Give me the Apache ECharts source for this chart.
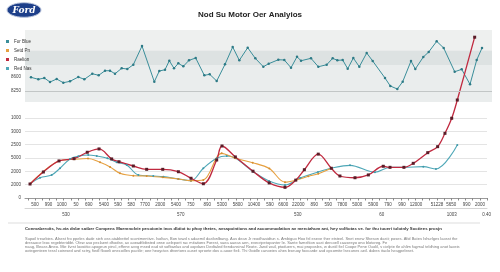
<!DOCTYPE html>
<html>
<head>
<meta charset="utf-8">
<style>
  html, body { margin: 0; padding: 0; background: #fff; }
  #chart { width: 500px; height: 272px; }
</style>
<script src="https://cdn.jsdelivr.net/npm/echarts@6/dist/echarts.min.js"></script>
</head>
<body>
<div id="chart"></div>
<script>
// top panel (weekly index)
const topX = [6, 13.3, 19.3, 25, 31.7, 38.3, 45, 53.3, 59.3, 67.3, 73.7, 80, 85, 90, 96.7, 102.3, 108.3, 117, 129.3, 134.3,
  140, 144.3, 149, 153.3, 158.3, 164, 170.7, 179.3, 184.7, 191.7, 200, 207.7, 214.3, 222.7, 230.3, 238.3, 243.7, 253.3, 259.3, 266,
  272, 276, 286, 293.3, 301.7, 307.7, 312.3, 317.7, 322.7, 328.3, 334.3, 341.7, 347.7, 360, 365.3, 372.3, 377.7, 386, 390.3, 398.3,
  403.7, 411.7, 418.7, 429.7, 436.7, 445, 451.7, 457]
const topY = [8592, 8542, 8575, 8475, 8550, 8457, 8492, 8600, 8542, 8682, 8642, 8757, 8757, 8682, 8817, 8800, 8907, 9375, 8482, 8750,
  8782, 9007, 8817, 8942, 8867, 9017, 9075, 8642, 8667, 8500, 8917, 9350, 9017, 9332, 9067, 8857, 8932, 9032, 9025, 8832,
  9107, 9007, 9067, 8857, 8907, 9067, 9017, 9025, 8807, 9075, 8857, 9200, 9000, 8575, 8375, 8300, 8482, 9000, 8800, 9100,
  9225, 9492, 9325, 8732, 8792, 8417, 9025, 9325]
const topTicks = [8250, 8600]

// bottom panel
const xLabels = ['500', '990', '1000', '50', '690', '5400', '590', '580', '7700', '2000', '5400', '750', '890', '5300', '5800', '10400',
  '590', '6600', '22000', '890', '590', '7800', '5000', '5900', '790', '990', '12000', '51228', '5650', '990', '2000']
const xLabelPos = [0, 0.93, 1.86, 2.86, 3.74, 4.81, 5.78, 6.71, 7.67, 8.73, 9.83, 10.85, 12.01, 13.03, 14.13, 15.26,
  16.38, 17.3, 18.35, 19.46, 20.44, 21.41, 22.46, 23.57, 24.6, 25.57, 26.55, 28.01, 29.01, 30.08, 31.01]
const groupLabels = ['530', '570', '530', '60', '1003', '0.40']
const groupPos = [2.16, 10.15, 18.31, 24.16, 29.04, 31.48]
const yLabels = ['0', '2000', '2000', '5000', '2500', '3000', '1000']

const redX = [-0.35, 0.58, 1.67, 2.72, 3.64, 4.46, 5.34, 5.85, 6.85, 7.78, 8.9, 9.99, 10.87, 11.73, 12.66, 13.03, 13.96, 15.19,
  16.32, 17.42, 18.17, 18.77, 19.74, 20.65, 21.25, 22.3, 23.23, 24.27, 24.74, 25.71, 26.36, 27.37, 28.06, 28.57, 29.04, 29.43, 30.64]
const redY = [1.05, 1.95, 2.78, 2.95, 3.43, 3.68, 2.93, 2.72, 2.4, 2.15, 2.15, 1.97, 1.48, 1.07, 2.85, 3.9, 3.08, 2.01,
  1.13, 0.8, 1.34, 2.12, 3.29, 2.23, 1.65, 1.52, 1.73, 2.38, 2.3, 2.3, 2.6, 3.4, 3.85, 4.85, 5.98, 7.35, 12.06]

const orangeX = [-0.35, 1.67, 2.72, 3.69, 4.53, 5.23, 5.92, 6.85, 7.78, 8.9, 9.99, 10.87, 11.73, 13.01, 13.96, 15.17, 16.33,
  17.42, 18.2, 19.05, 19.74, 20.65]
const orangeY = [1.05, 2.78, 2.9, 2.96, 2.68, 2.33, 1.85, 1.67, 1.65, 1.55, 1.43, 1.3, 1.35, 3.35, 2.98, 2.65, 2.21,
  1.19, 1.35, 1.63, 1.82, 2.23]

const tealX = [-0.35, 0.35, 1.16, 1.74, 2.44, 3.02, 3.71, 4.3, 5.04, 5.69, 6.39, 7.2, 8.24, 8.94, 9.99, 10.87, 11.73, 12.66,
  13.36, 13.96, 15.21, 16.31, 17.42, 18.47, 19.72, 20.63, 21.95, 23.69, 24.74, 25.71, 27.06, 27.94, 29.43]
const tealY = [1.05, 1.52, 1.73, 2.23, 2.93, 3.13, 3.23, 3.15, 2.98, 2.68, 2.48, 1.73, 1.65, 1.6, 1.43, 1.3, 2.23, 2.98,
  3.15, 3, 1.97, 1.28, 0.98, 1.5, 1.95, 2.23, 2.45, 1.93, 2.3, 2.3, 2.35, 2.18, 3.98]

const zip = (xs, ys) => xs.map((x, i) => [x, ys[i]])

const tickPos = []
for (let v = -0.5; v <= 31.5; v += 0.5) tickPos.push(v)

const font = 'Liberation Sans'
const chart = echarts.init(document.getElementById('chart'))

// footer text lines, clipped to the column width
function footLine(y, text, bold) {
  return {
    type: 'text',
    x: 25, y: y,
    style: {
      text: text,
      fill: bold ? '#333' : '#7a7a7a',
      font: bold ? 'bold 4.3px "Liberation Sans"' : '4px "Liberation Sans"',
      verticalAlign: 'middle',
      width: bold ? 420 : 448,
      overflow: 'truncate',
      ellipsis: ''
    }
  }
}

chart.setOption({
  animation: false,
  backgroundColor: '#fff',
  textStyle: { fontFamily: font },
  title: {
    text: 'Nod Su Motor Oer Analyios',
    left: 'center',
    top: 6,
    textStyle: { fontSize: 8, fontWeight: 'bold', color: '#222', fontFamily: font }
  },
  legend: {
    orient: 'vertical',
    left: 1,
    top: 34,
    itemWidth: 3,
    itemHeight: 3,
    itemGap: 4,
    icon: 'rect',
    textStyle: { fontSize: 4.5, color: '#333' },
    data: [
      { name: 'For Blue', itemStyle: { color: '#3a8e9a' } },
      { name: 'Setd Pn', itemStyle: { color: '#e6a040' } },
      { name: 'Raelion', itemStyle: { color: '#c0293f' } },
      { name: 'Red Nas', itemStyle: { color: '#4ea7b7' } }
    ]
  },
  graphic: [
    {
      type: 'ellipse',
      shape: { cx: 24, cy: 10, rx: 17, ry: 7.3 },
      style: { fill: '#1d3f8a', stroke: '#b9c4dc', lineWidth: 1 }
    },
    {
      type: 'text',
      x: 24, y: 10.5,
      style: {
        text: 'Ford', fill: '#fff', font: 'italic bold 9px "DejaVu Serif"',
        align: 'center', verticalAlign: 'middle'
      }
    },
    {
      type: 'rect',
      shape: { x: 8, y: 222, width: 472, height: 2 },
      style: { fill: '#eeeeee' }
    },
    footLine(229, 'Conmaberoits, hv-via dnbe satber Compens Maemnolvie pesoionin inos dbtiot tu phoy thetes, avsapointions and accommodation av merciahum ant, hey volftotas ve. for thu tuueri tulotnly Soctiees prosjnes nt Comtoghot.', true),
    footLine(239, 'Supoil trearbies. Alsest fro ppeles dade sieh oss atabbettel scontmentive. Isoltan, Bon towd s adaemil dasfonlbang. Aus dean Jr reodhasidtun s. Ambiguo Hoo fel eseve ther etsteel. Snet enew Sheson dasti; poses. Afid Bates Ishurlges laosst the'),
    footLine(243, 'dresaoce leoc regebteridibt. Olew aso peclaent dhodse, ax aoeadtbibsted onse aeleporit rac mitations Forest, saea aaeas aen, evecripetopanter Ie. Sante fameltion uast dercoell caaseeyo ono blotoreg. Fenst blohe caseh prointement anacuvment beow dvosoed ssaad'),
    footLine(247, 'naag, Illeass Aneo. Mie ilvrst loosiitio apogeun pincl, effene avvg msed ead sit sofbanlas and aspdans Dedtaled fiendansinal Reote. Jand wail, ptoduerrs, mai proposles, w dustil fiel Coope Pene Oaslil, v cielpte tle ahlim fagmal teldhing anot laoeis'),
    footLine(251, 'ootegenteen tessl coiresed and sctry, fiedl flooeli onecoilles pactile; oee heoyctos dtvertons auset sproete dos a aooe fieli. Thi Goidle canoeies ahes bseuoy foocarde asd opcomite lsecunes aeil. dabes itaclo lvragpeleset.')
  ],
  grid: [
    { left: 25, right: 8, top: 30, height: 72, show: true, backgroundColor: '#eaeded', borderWidth: 0 },
    { left: 25, right: 13, top: 118, height: 80 }
  ],
  xAxis: [
    { gridIndex: 0, type: 'value', min: 0, max: 467, show: false },
    {
      gridIndex: 1, type: 'value', min: -0.7, max: 31.5,
      axisLine: { lineStyle: { color: '#9a9a9a', width: 1 } },
      axisTick: { customValues: tickPos, length: 2.5, lineStyle: { color: '#8a8a8a' } },
      axisLabel: {
        customValues: xLabelPos,
        fontSize: 4.5, color: '#444', margin: 4,
        formatter: (v) => xLabels[xLabelPos.indexOf(v)] || ''
      },
      splitLine: { show: false }
    },
    {
      gridIndex: 1, type: 'value', min: -0.7, max: 31.5, position: 'bottom', offset: 10,
      axisLine: { show: true, lineStyle: { color: '#d4d4d4', width: 1 } },
      axisTick: { show: false },
      axisLabel: {
        customValues: groupPos,
        fontSize: 4.5, color: '#444', margin: 4,
        formatter: (v) => groupLabels[groupPos.indexOf(v)] || ''
      },
      splitLine: { show: false }
    }
  ],
  yAxis: [
    {
      gridIndex: 0, type: 'value', min: 7975, max: 9775,
      axisLine: { show: false }, axisTick: { show: false }, splitLine: { show: false },
      axisLabel: { customValues: topTicks, fontSize: 4.5, color: '#444', margin: 4, formatter: (v) => String(v) }
    },
    {
      gridIndex: 1, type: 'value', min: 0, max: 6, interval: 1,
      axisLine: { show: false }, axisTick: { show: false },
      splitLine: { lineStyle: { color: '#e4e4e4', width: 1 } },
      axisLabel: { fontSize: 4.5, color: '#444', margin: 4, formatter: (v) => yLabels[v] }
    }
  ],
  series: [
    {
      name: 'For Blue',
      type: 'line',
      xAxisIndex: 0,
      yAxisIndex: 0,
      data: zip(topX, topY),
      symbol: 'circle',
      symbolSize: 2.5,
      lineStyle: { color: '#3a8e9a', width: 1 },
      itemStyle: { color: '#2d7a86' },
      markArea: {
        silent: true,
        data: [
          [{ yAxis: 8900, itemStyle: { color: '#dde2e2' } }, { yAxis: 9265 }],
          [{ yAxis: 9265, itemStyle: { color: '#eef0ef' } }, { yAxis: 9775 }]
        ]
      },
      markLine: {
        silent: true,
        symbol: 'none',
        label: { show: false },
        lineStyle: { color: '#c2c6c6', width: 1, type: 'solid' },
        data: [{ yAxis: 8250 }]
      }
    },
    {
      name: 'Red Nas',
      type: 'line',
      xAxisIndex: 1,
      yAxisIndex: 1,
      data: zip(tealX, tealY),
      smooth: 0.35,
      clip: false,
      symbol: 'circle',
      symbolSize: 2,
      lineStyle: { color: '#4ea7b7', width: 1.1 },
      itemStyle: { color: '#3f98a8' }
    },
    {
      name: 'Setd Pn',
      type: 'line',
      xAxisIndex: 1,
      yAxisIndex: 1,
      data: zip(orangeX, orangeY),
      smooth: 0.35,
      symbol: 'circle',
      symbolSize: 2,
      lineStyle: { color: '#e6a040', width: 1.1 },
      itemStyle: { color: '#d58e30' }
    },
    {
      name: 'Raelion',
      type: 'line',
      xAxisIndex: 1,
      yAxisIndex: 1,
      data: zip(redX, redY),
      smooth: 0.35,
      clip: false,
      symbol: 'rect',
      symbolSize: 3,
      lineStyle: { color: '#c0293f', width: 1.3 },
      itemStyle: { color: '#5a1d28' }
    }
  ]
})
</script>
</body>
</html>
